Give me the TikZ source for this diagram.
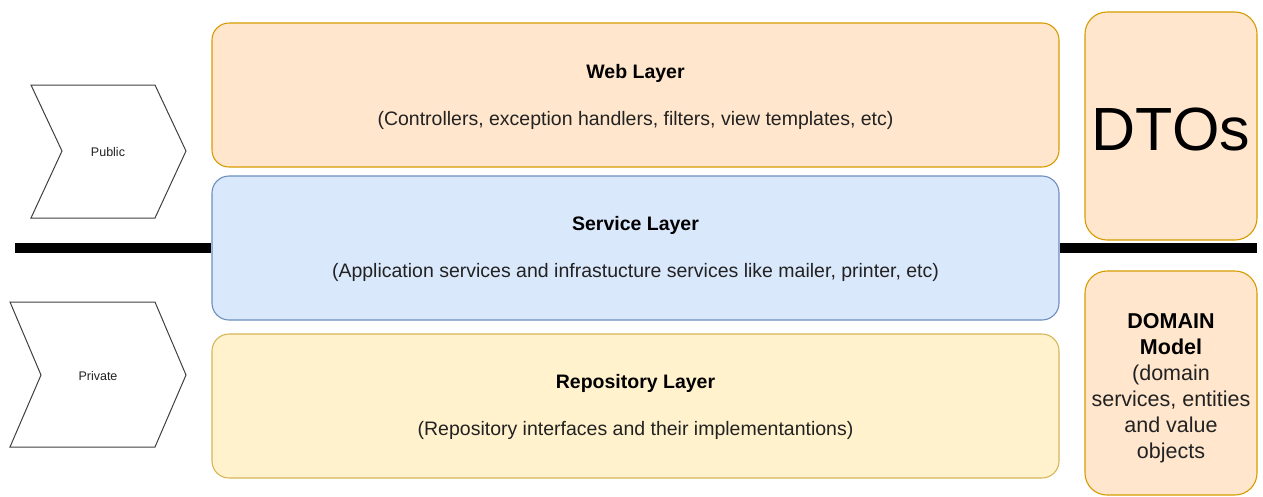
\documentclass[tikz,border=0pt]{standalone}
\usepackage{fontspec}
\setmainfont{Liberation Sans}
\definecolor{webfill}{HTML}{FFE6CC}
\definecolor{webdraw}{HTML}{D79B00}
\definecolor{svcfill}{HTML}{DAE8FC}
\definecolor{svcdraw}{HTML}{6C8EBF}
\definecolor{repfill}{HTML}{FFF2CC}
\definecolor{repdraw}{HTML}{D6B656}
\definecolor{txtgray}{HTML}{222222}
\tikzset{
  layer/.style={rounded corners=17pt, line width=1.1pt, minimum width=847pt, minimum height=144pt, inner sep=0pt},
  side/.style={rounded corners=22pt, line width=1.1pt, fill=webfill, draw=webdraw, minimum width=172pt, inner sep=0pt},
  title/.style={font=\fontsize{19.5}{23}\selectfont\bfseries, text=black},
  sub/.style={font=\fontsize{19.5}{23}\selectfont, text=txtgray},
  chev/.style={draw=black!75, line width=1pt, fill=white},
  tag/.style={font=\fontsize{12.5}{15}\selectfont, text=txtgray},
  bar/.style={line width=10pt, black}
}
\begin{document}
\begin{tikzpicture}[x=1pt,y=-1pt]
\useasboundingbox (0,0) rectangle (1263,496);
% chevrons
\draw[chev] (31,85) -- (155,85) -- (186,151) -- (155,218) -- (31,218) -- (62,151) -- cycle;
\node[tag] (pub) at (108,152) {Public};
\draw[chev] (10,302) -- (155,302) -- (186,375) -- (155,447) -- (10,447) -- (41,375) -- cycle;
\node[tag] (priv) at (98,376) {Private};
% layers
\node[layer, fill=webfill, draw=webdraw] (web) at (635.5,95) {};
\node[layer, fill=svcfill, draw=svcdraw] (svc) at (635.5,248) {};
\node[layer, fill=repfill, draw=repdraw] (rep) at (635.5,406) {};
\node[title] (webt) at (635.5,73) {Web Layer};
\node[sub] (webs) at (635.5,120) {(Controllers, exception handlers, filters, view templates, etc)};
\node[title] (svct) at (635.5,225) {Service Layer};
\node[sub] (svcs) at (635.5,272) {(Application services and infrastucture services like mailer, printer, etc)};
\node[title] (rept) at (635.5,383) {Repository Layer};
\node[sub] (reps) at (635.5,430) {(Repository interfaces and their implementantions)};
% bar
\coordinate (barL) at (15,248);
\coordinate (barR) at (1257,248);
\draw[bar] (barL) -- (svc.west);
\draw[bar] (svc.east) -- (barR);
% side boxes
\node[side, minimum height=228pt] (dto) at (1171,126) {};
\node[font=\fontsize{61}{70}\selectfont, text=black] (dtot) at (1171,129) {DTOs};
\node[side, minimum height=224pt] (dom) at (1171,383) {};
\node[align=center, font=\fontsize{21.5}{26}\selectfont, text=txtgray] (domt) at (1171,388)
  {\textbf{\color{black}DOMAIN}\\\textbf{\color{black}Model}\\(domain\\services, entities\\and value\\objects};
\end{tikzpicture}
\end{document}
